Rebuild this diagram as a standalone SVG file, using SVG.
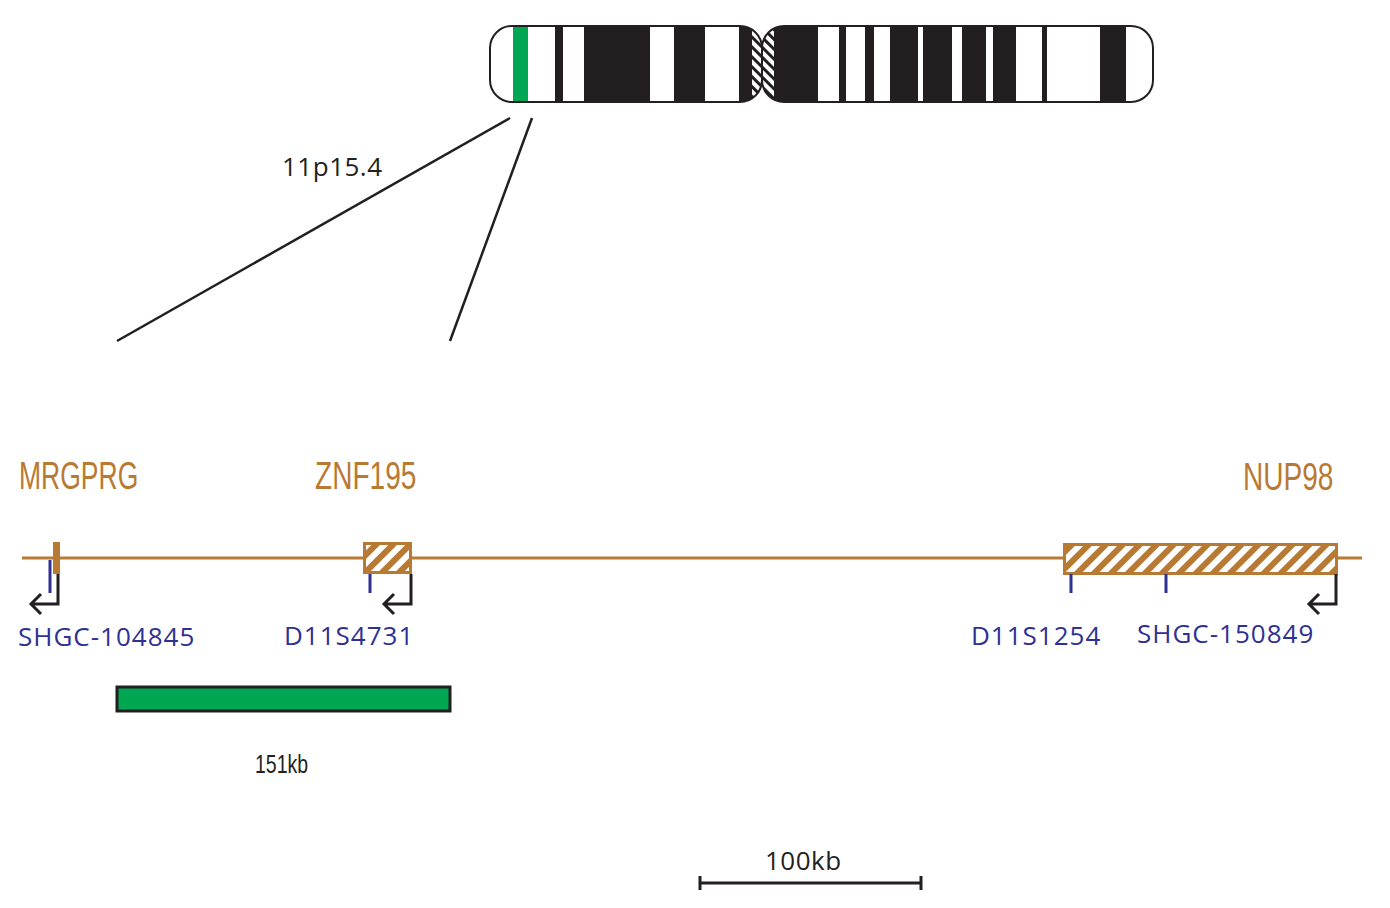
<svg xmlns="http://www.w3.org/2000/svg" width="1390" height="908" viewBox="0 0 1390 908">
<defs>
<style>
.gene{fill:#b87a33;font-family:"Liberation Sans Narrow","Liberation Sans",sans-serif;font-size:39px}
.sts{fill:#2e3192;font-family:"Open Sans","Liberation Sans",sans-serif;font-size:26px;letter-spacing:1px}
.blk{fill:#231f20}
.tick{stroke:#2e3192;stroke-width:3}
.arr{stroke:#231f20;stroke-width:3;fill:none}
</style>
<pattern id="hatch" width="12" height="12" patternUnits="userSpaceOnUse" patternTransform="rotate(45)">
<rect width="12" height="12" fill="#fff"/><rect width="6" height="12" fill="#b87a33"/>
</pattern>
<pattern id="hatchK" width="7" height="7" patternUnits="userSpaceOnUse" patternTransform="rotate(-45)">
<rect width="7" height="7" fill="#fff"/><rect width="3" height="7" fill="#231f20"/>
</pattern>
<clipPath id="chr">
<rect x="490" y="26" width="272" height="76" rx="22"/>
<rect x="762" y="26" width="391" height="76" rx="22"/>
</clipPath>
</defs>
<g id="chromosome">
<g clip-path="url(#chr)">
<rect x="490" y="26" width="663" height="76" fill="#fff"/>
<rect x="513" y="26" width="15" height="76" fill="#00a651"/>
<g class="blk">
<rect x="555" y="26" width="8" height="76"/><rect x="584" y="26" width="66" height="76"/>
<rect x="674" y="26" width="31" height="76"/><rect x="739" y="26" width="46" height="76"/>
<rect x="785" y="26" width="33" height="76"/><rect x="839" y="26" width="7" height="76"/>
<rect x="865" y="26" width="9" height="76"/><rect x="890" y="26" width="28" height="76"/>
<rect x="923" y="26" width="29" height="76"/><rect x="962" y="26" width="24" height="76"/>
<rect x="993" y="26" width="23" height="76"/><rect x="1042" y="26" width="5" height="76"/>
<rect x="1100" y="26" width="26" height="76"/>
</g>
<rect x="752" y="26" width="22" height="76" fill="url(#hatchK)"/>
</g>
<rect x="490" y="26" width="272" height="76" rx="22" fill="none" stroke="#231f20" stroke-width="2"/>
<rect x="762" y="26" width="391" height="76" rx="22" fill="none" stroke="#231f20" stroke-width="2"/>
</g>
<g id="connectors" stroke="#231f20" stroke-width="2.5">
<line x1="510" y1="118" x2="117" y2="341"/>
<line x1="532" y1="118" x2="450" y2="341"/>
</g>
<text x="282" y="176" font-family="Open Sans,Liberation Sans,sans-serif" font-size="26" fill="#231f20" letter-spacing="0.5">11p15.4</text>
<g id="genomic-line">
<line x1="22" y1="558" x2="1362" y2="558" stroke="#b87a33" stroke-width="3"/>
</g>
<g id="MRGPRG">
<rect x="53" y="542" width="7" height="32" fill="#b87a33"/>
<text class="gene" transform="translate(19 489) scale(0.68 1)">MRGPRG</text>
<line class="tick" x1="50" y1="560" x2="50" y2="593"/>
<path class="arr" d="M58 574V604H31M41 594L31 604L41 614"/>
<text class="sts" x="18" y="646">SHGC-104845</text>
</g>
<g id="ZNF195">
<rect x="364.5" y="543.5" width="46" height="29" fill="url(#hatch)" stroke="#b87a33" stroke-width="3"/>
<text class="gene" transform="translate(315 489) scale(0.72 1)">ZNF195</text>
<line class="tick" x1="370" y1="574" x2="370" y2="593"/>
<path class="arr" d="M411 574V604H384M394 594L384 604L394 614"/>
<text class="sts" x="284" y="645">D11S4731</text>
</g>
<g id="NUP98">
<rect x="1064.5" y="544.5" width="272" height="29" fill="url(#hatch)" stroke="#b87a33" stroke-width="3"/>
<text class="gene" transform="translate(1243 490) scale(0.72 1)">NUP98</text>
<line class="tick" x1="1071" y1="574" x2="1071" y2="593"/>
<line class="tick" x1="1166" y1="574" x2="1166" y2="593"/>
<path class="arr" d="M1336 574V604H1309M1319 594L1309 604L1319 614"/>
<text class="sts" x="971" y="645">D11S1254</text>
<text class="sts" x="1137" y="643">SHGC-150849</text>
</g>
<g id="deletion">
<rect x="117" y="687" width="333" height="24" fill="#00a651" stroke="#231f20" stroke-width="3"/>
<text font-family="Liberation Sans Narrow,Liberation Sans,sans-serif" font-size="26" fill="#231f20" transform="translate(255 773) scale(0.75 1)">151kb</text>
</g>
<g id="scale">
<path d="M700 883H921M700 876V890M921 876V890" stroke="#231f20" stroke-width="3" fill="none"/>
<text x="765" y="870" font-family="Open Sans,Liberation Sans,sans-serif" font-size="26" fill="#231f20" letter-spacing="0.5">100kb</text>
</g>
</svg>
